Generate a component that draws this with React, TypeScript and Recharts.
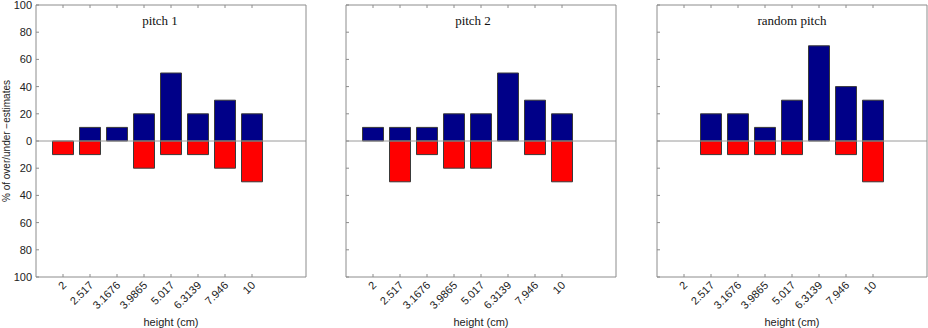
import React from "react";
import {
  BarChart,
  Bar,
  XAxis,
  YAxis,
  ReferenceLine,
} from "recharts";

const heights = ["2", "2.517", "3.1676", "3.9865", "5.017", "6.3139", "7.946", "10"];
const positions = [1, 2, 3, 4, 5, 6, 7, 8];
const yTicks = [-100, -80, -60, -40, -20, 0, 20, 40, 60, 80, 100];

const pitch1Over = [0, 10, 10, 20, 50, 20, 30, 20];
const pitch1Under = [10, 10, 0, 20, 10, 10, 20, 30];
const pitch2Over = [10, 10, 10, 20, 20, 50, 30, 20];
const pitch2Under = [0, 30, 10, 20, 20, 0, 10, 30];
const randomOver = [0, 20, 20, 10, 30, 70, 40, 30];
const randomUnder = [0, 10, 10, 10, 10, 0, 10, 30];

const COLORS = {
  over: "#000088",
  under: "#FF0000",
  edge: "#3a3a3a",
  frame: "#8c8c8c",
  zero: "#9a9a9a",
  text: "#222",
};

const SANS = "'Liberation Sans', Arial, sans-serif";
const SERIF = "'Liberation Serif', 'Times New Roman', serif";

const buildRows = (over: number[], under: number[]) =>
  positions.map((x, i) => ({ x, over: over[i], under: -under[i] }));

const AngledTick = (props: any) => {
  const { x, y, payload } = props;
  const label = heights[payload.value - 1];
  return (
    <g transform={`translate(${x + 4},${y + 9}) rotate(-45)`}>
      <text x={0} y={0} textAnchor="end" fontSize={11} fontFamily={SANS} fill={COLORS.text}>
        {label}
      </text>
    </g>
  );
};

interface PanelProps {
  over: number[];
  under: number[];
  left: number;
  width: number;
  axisWidth: number;
  showLabels: boolean;
}

const Panel: React.FC<PanelProps> = ({ over, under, left, width, axisWidth, showLabels }) => {
  const data = buildRows(over, under);
  const blank = () => "";
  return (
    <div style={{ position: "absolute", left, top: 0 }}>
      <BarChart
        width={width}
        height={328}
        data={data}
        stackOffset="sign"
        margin={{ top: 0, right: 0, bottom: 0, left: 0 }}
      >
        <XAxis
          xAxisId="b"
          dataKey="x"
          type="number"
          domain={[0, 10]}
          ticks={positions}
          height={51}
          stroke={COLORS.frame}
          tickSize={-3}
          tickMargin={3}
          tick={<AngledTick />}
          interval={0}
          label={{
            value: "height (cm)",
            position: "insideBottom",
            offset: 2,
            fontSize: 11,
            fontFamily: SANS,
            fill: COLORS.text,
          }}
        />
        <XAxis
          xAxisId="t"
          dataKey="x"
          type="number"
          orientation="top"
          domain={[0, 10]}
          ticks={positions}
          height={5}
          stroke={COLORS.frame}
          tickSize={-3}
          tickFormatter={blank}
          interval={0}
        />
        <YAxis
          yAxisId="l"
          type="number"
          domain={[-100, 100]}
          ticks={yTicks}
          width={axisWidth}
          stroke={COLORS.frame}
          tickSize={-3}
          tickMargin={7}
          interval={0}
          tick={{ fontSize: 11, fontFamily: SANS, fill: COLORS.text }}
          tickFormatter={showLabels ? (v: number) => String(Math.abs(v)) : blank}
        />
        <YAxis
          yAxisId="r"
          type="number"
          orientation="right"
          domain={[-100, 100]}
          ticks={yTicks}
          width={4}
          stroke={COLORS.frame}
          tickSize={-3}
          interval={0}
          tickFormatter={blank}
        />
        <ReferenceLine xAxisId="b" yAxisId="l" y={0} stroke={COLORS.zero} strokeWidth={1} />
        <Bar
          xAxisId="b"
          yAxisId="l"
          dataKey="over"
          stackId="a"
          fill={COLORS.over}
          stroke={COLORS.edge}
          strokeWidth={1}
          barSize={21}
          isAnimationActive={false}
        />
        <Bar
          xAxisId="b"
          yAxisId="l"
          dataKey="under"
          stackId="a"
          fill={COLORS.under}
          stroke={COLORS.edge}
          strokeWidth={1}
          barSize={21}
          isAnimationActive={false}
        />
      </BarChart>
    </div>
  );
};

const titleStyle = (center: number): React.CSSProperties => ({
  position: "absolute",
  left: center - 60,
  width: 120,
  top: 13,
  textAlign: "center",
  fontFamily: SERIF,
  fontSize: 13,
  color: "#111",
  lineHeight: "16px",
});

export default function App() {
  return (
    <div
      style={{
        position: "absolute",
        left: 0,
        top: 0,
        width: 928,
        height: 328,
        overflow: "hidden",
        background: "#fff",
      }}
    >
      <Panel over={pitch1Over} under={pitch1Under} left={0} width={310} axisWidth={36} showLabels />
      <Panel over={pitch2Over} under={pitch2Under} left={340} width={280} axisWidth={6} showLabels={false} />
      <Panel over={randomOver} under={randomUnder} left={651} width={280} axisWidth={6} showLabels={false} />
      <div style={titleStyle(160)}>pitch 1</div>
      <div style={titleStyle(473)}>pitch 2</div>
      <div style={titleStyle(792)}>random pitch</div>
      <div
        style={{
          position: "absolute",
          left: 7 - 100,
          top: 141 - 7,
          width: 200,
          height: 14,
          lineHeight: "14px",
          textAlign: "center",
          transform: "rotate(-90deg)",
          fontFamily: SANS,
          fontSize: 10,
          color: COLORS.text,
        }}
      >
        % of over/under −estimates
      </div>
    </div>
  );
}
